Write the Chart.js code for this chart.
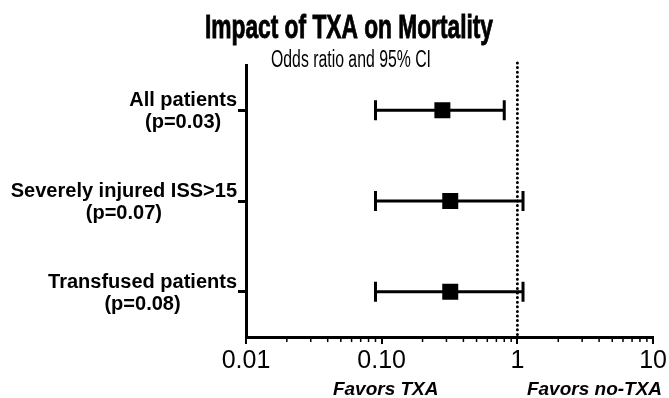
<!DOCTYPE html>
<html>
<head>
<meta charset="utf-8">
<script src="https://cdn.jsdelivr.net/npm/chart.js@4"></script>
<style>
  body { margin: 0; background: #fff; }
  canvas { display: block; }
</style>
</head>
<body>
<canvas id="myChart" width="669" height="398"></canvas>
<script>
// データ
const categories = ['All patients', 'Severely injured ISS>15', 'Transfused patients'];
const pValues = ['(p=0.03)', '(p=0.07)', '(p=0.08)'];
const oddsRatios = [0.28, 0.32, 0.32];
const ciLower = [0.09, 0.09, 0.09];
const ciUpper = [0.80, 1.1, 1.1];
const xTicks = [0.01, 0.1, 1, 10];
const xTickLabels = ['0.01', '0.10', '1', '10'];
const favorLabels = ['Favors TXA', 'Favors no-TXA'];
const chartTitle = 'Impact of TXA on Mortality';
const chartSubtitle = 'Odds ratio and 95% CI';

const FONT = '"Liberation Sans", Arial, Helvetica, sans-serif';

// 横方向に圧縮してテキストを描く
function drawSqueezed(ctx, text, cx, y, font, width, stroke) {
    ctx.save();
    ctx.font = font;
    const w = ctx.measureText(text).width;
    const sx = Math.min(1, width / w);
    ctx.translate(cx, y);
    ctx.scale(sx, 1);
    ctx.textAlign = 'center';
    ctx.textBaseline = 'alphabetic';
    ctx.fillText(text, 0, 0);
    if (stroke) {
        ctx.lineWidth = stroke;
        ctx.strokeText(text, 0, 0);
    }
    ctx.restore();
}

const forestPlugin = {
    id: 'forest',
    beforeDatasetsDraw(chart) {
        const { ctx, chartArea, scales: { x, y } } = chart;
        ctx.save();
        ctx.strokeStyle = '#000';

        // 基準線 (OR = 1)
        const x1 = x.getPixelForValue(1);
        ctx.lineWidth = 3;
        ctx.lineCap = 'round';
        ctx.setLineDash([0, 4.6]);
        ctx.beginPath();
        ctx.moveTo(x1, chartArea.top - 2);
        ctx.lineTo(x1, chartArea.bottom);
        ctx.stroke();
        ctx.setLineDash([]);
        ctx.lineCap = 'butt';

        // 95%信頼区間のエラーバー
        ctx.lineWidth = 3;
        categories.forEach((c, i) => {
            const py = y.getPixelForValue(i);
            const xl = x.getPixelForValue(ciLower[i]);
            const xu = x.getPixelForValue(ciUpper[i]);
            ctx.beginPath();
            ctx.moveTo(xl, py);
            ctx.lineTo(xu, py);
            ctx.moveTo(xl, py - 10);
            ctx.lineTo(xl, py + 10);
            ctx.moveTo(xu, py - 10);
            ctx.lineTo(xu, py + 10);
            ctx.stroke();
        });
        ctx.restore();
    },
    afterDraw(chart) {
        const { ctx, scales: { x, y } } = chart;
        ctx.save();
        ctx.fillStyle = '#000';
        ctx.strokeStyle = '#000';

        // タイトルとサブタイトル
        drawSqueezed(ctx, chartTitle, 349, 38, 'bold 34px ' + FONT, 288, 0.9);
        drawSqueezed(ctx, chartSubtitle, 351, 67, '23px ' + FONT, 160);

        // Y軸ラベル (2行、ブロックごとに中央揃え)
        ctx.font = 'bold 20px ' + FONT;
        ctx.textAlign = 'center';
        ctx.textBaseline = 'alphabetic';
        const right = y.right - 9;
        categories.forEach((c, i) => {
            const py = y.getPixelForValue(i);
            const lines = [c, pValues[i]];
            const maxW = Math.max(...lines.map(t => ctx.measureText(t).width));
            const cx = right - maxW / 2;
            ctx.fillText(lines[0], cx, py - 4);
            ctx.fillText(lines[1], cx, py + 18);
        });

        // X軸の補助目盛り
        ctx.lineWidth = 1.5;
        for (let d = 0; d < xTicks.length - 1; d++) {
            for (let k = 2; k <= 9; k++) {
                const px = x.getPixelForValue(xTicks[d] * k);
                ctx.beginPath();
                ctx.moveTo(px, x.top);
                ctx.lineTo(px, x.top + 5);
                ctx.stroke();
            }
        }

        // Favors ラベル
        ctx.font = 'italic bold 19px ' + FONT;
        ctx.fillText(favorLabels[0], x.getPixelForValue(0.107), 395);
        ctx.fillText(favorLabels[1], x.getPixelForValue(3.7), 395);
        ctx.restore();
    }
};

const ctx = document.getElementById('myChart').getContext('2d');
new Chart(ctx, {
    type: 'scatter',
    data: {
        datasets: [{
            data: oddsRatios.map((v, i) => ({ x: v, y: categories[i] })),
            backgroundColor: '#000',
            borderColor: '#000',
            borderWidth: 0,
            pointStyle: 'rect',
            pointRadius: 11.3,
            pointHoverRadius: 11.3
        }]
    },
    options: {
        responsive: false,
        animation: false,
        layout: { padding: { top: 65, right: 15, left: 0, bottom: 0 } },
        plugins: {
            legend: { display: false },
            tooltip: { enabled: false }
        },
        scales: {
            x: {
                type: 'logarithmic',
                position: 'bottom',
                min: 0.01,
                max: 10,
                afterBuildTicks: s => { s.ticks = xTicks.map(v => ({ value: v })); },
                afterFit: s => { s.height = 61; },
                ticks: {
                    callback: (v, i) => xTickLabels[i],
                    autoSkip: false,
                    maxRotation: 0,
                    color: '#000',
                    padding: 2,
                    font: { family: FONT, size: 25 }
                },
                grid: { drawOnChartArea: false, tickLength: 7, color: '#000', lineWidth: 2 },
                border: { color: '#000', width: 3 }
            },
            y: {
                type: 'category',
                labels: categories,
                offset: true,
                position: 'left',
                afterFit: s => { s.width = 246; },
                ticks: { display: false },
                grid: { drawOnChartArea: false, tickLength: 8, color: '#000', lineWidth: 3, offset: false },
                border: { color: '#000', width: 3 }
            }
        }
    },
    plugins: [forestPlugin]
});
</script>
</body>
</html>
